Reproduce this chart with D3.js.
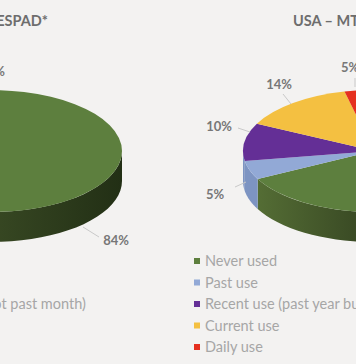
<!DOCTYPE html>
<html>
<head>
<meta charset="utf-8">
<script src="https://cdnjs.cloudflare.com/ajax/libs/d3/7.8.5/d3.min.js"></script>
<style>
  html, body { margin: 0; padding: 0; background: #f3f2f1; }
  svg { display: block; font-family: Lato, sans-serif; }
  .title { font-size: 14.5px; font-weight: 700; fill: #6d6d6d; }
  .pct { font-size: 13px; font-weight: 700; fill: #777; }
  .legend { font-size: 14.5px; fill: #a6a6a6; }
  .leader { stroke: #c9c9c9; stroke-width: 1; fill: none; }
</style>
</head>
<body>
<svg id="chart" width="356" height="364"></svg>
<script>
const categories = ["Never used", "Past use", "Recent use (past year but not past month)", "Current use", "Daily use"];
const espadValues = [84, 3, 6, 5, 2];
const mtfValues = [66, 5, 10, 14, 5];

const topColors = ["#5d7f3e", "#92a9d6", "#642f96", "#f4c041", "#e5301f"];
// the purple slice only shows a sliver of rim, which reads as blue in the original
const wallColors = [null, "#7d94c2", "#7d94c2", "#c99c2f", "#b02418"];

const rx = 131, ry = 61, depth = 30, cy = 151;
const svg = d3.select("#chart");
const deg = Math.PI / 180;

// label placement relative to the pie centre: [leader from, leader to, text]
const espadLabels = [
  {i: 0, from: [92, 76], to: [108, 86], text: [125, 89], anchor: "middle"},
  {i: 4, from: null, to: null, text: [14, -80], anchor: "end"}
];
const mtfLabels = [
  {i: 1, from: [-128, 31], to: [-139, 36], text: [-159, 43], anchor: "middle"},
  {i: 2, from: [-124, -19], to: [-136, -23], text: [-155, -25], anchor: "middle"},
  {i: 3, from: [-83, -47], to: [-91, -57], text: [-95, -67], anchor: "middle"},
  {i: 4, from: [-19, -64], to: [-19, -73], text: [-24, -84], anchor: "middle"}
];

function drawPie(values, cx, start, labels, id) {
  const g = svg.append("g").attr("transform", `translate(${cx},${cy})`);

  // user space here is the translated g, so the gradient runs -rx..rx
  const grad = svg.append("defs").append("linearGradient")
    .attr("id", id)
    .attr("gradientUnits", "userSpaceOnUse")
    .attr("x1", -rx).attr("x2", rx)
    .attr("y1", 0).attr("y2", 0);
  grad.append("stop").attr("offset", "0%").attr("stop-color", "#587237");
  grad.append("stop").attr("offset", "42%").attr("stop-color", "#3b4c25");
  grad.append("stop").attr("offset", "100%").attr("stop-color", "#222f15");

  const pie = d3.pie().sort(null)
    .startAngle(start * deg)
    .endAngle((start + 360) * deg);
  const slices = pie(values);

  const wall = d3.area()
    .x(a => rx * Math.sin(a))
    .y0(a => -ry * Math.cos(a))
    .y1(a => -ry * Math.cos(a) + depth);

  // only the front half of the rim shows a wall
  slices.forEach((s, i) => {
    const a0 = Math.max(s.startAngle, 90 * deg);
    const a1 = Math.min(s.endAngle, 270 * deg);
    if (a1 <= a0) return;
    const steps = d3.range(0, 41).map(t => a0 + (a1 - a0) * t / 40);
    g.append("path")
      .attr("d", wall(steps))
      .attr("fill", i === 0 ? `url(#${id})` : wallColors[i]);
  });

  const arc = d3.arc().innerRadius(0).outerRadius(rx);
  g.append("g")
    .attr("transform", `scale(1,${ry / rx})`)
    .selectAll("path")
    .data(slices)
    .enter()
    .append("path")
    .attr("d", arc)
    .attr("fill", (d, i) => topColors[i]);

  labels.forEach(l => {
    if (l.from) {
      g.append("line").attr("class", "leader")
        .attr("x1", l.from[0]).attr("y1", l.from[1])
        .attr("x2", l.to[0]).attr("y2", l.to[1]);
    }
    g.append("text").attr("class", "pct")
      .attr("x", l.text[0]).attr("y", l.text[1])
      .attr("dy", "0.35em")
      .attr("text-anchor", l.anchor)
      .text(values[l.i] + "%");
  });
}

function drawLegend(x) {
  const rows = d3.scalePoint().domain(categories).range([261, 347]);
  const g = svg.append("g");
  categories.forEach((c, i) => {
    g.append("rect")
      .attr("x", x).attr("y", rows(c) - 3)
      .attr("width", 6).attr("height", 6)
      .attr("fill", topColors[i]);
    g.append("text").attr("class", "legend")
      .attr("x", x + 11).attr("y", rows(c))
      .attr("dy", "0.35em")
      .text(c);
  });
}

drawPie(espadValues, -9, 2, espadLabels, "wallEspad");
drawPie(mtfValues, 374, 5, mtfLabels, "wallMtf");
drawLegend(-189);
drawLegend(194);

svg.append("text").attr("class", "title")
  .attr("x", 48).attr("y", 26).attr("text-anchor", "end")
  .text("Europe – ESPAD*");
svg.append("text").attr("class", "title")
  .attr("x", 293).attr("y", 26)
  .text("USA – MTF");
</script>
</body>
</html>
